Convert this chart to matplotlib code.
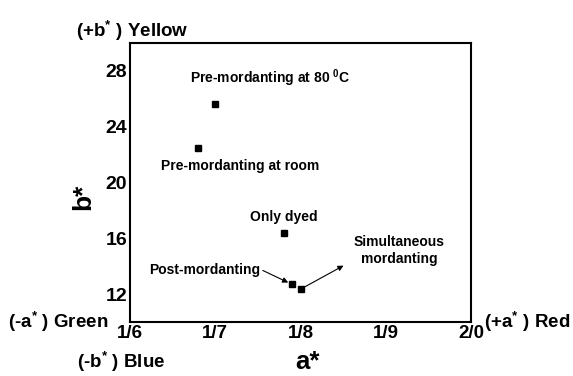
import matplotlib
matplotlib.use("Agg")
import matplotlib.pyplot as plt

plt.rcParams["font.family"] = ["Liberation Sans", "DejaVu Sans"]
plt.rcParams["font.weight"] = "bold"
plt.rcParams["mathtext.fontset"] = "custom"
plt.rcParams["mathtext.rm"] = "Liberation Sans:bold"
plt.rcParams["mathtext.it"] = "Liberation Sans:bold"
plt.rcParams["mathtext.bf"] = "Liberation Sans:bold"

# treatments and their CIELab coordinates
treatments = [
    "Pre-mordanting at 80 $^{0}$C",
    "Pre-mordanting at room",
    "Only dyed",
    "Post-mordanting",
    "Simultaneous\nmordanting",
]
a_star = [17.0, 16.8, 17.81, 17.9, 18.0]
b_star = [25.6, 22.5, 16.4, 12.7, 12.35]

x_ticks = [16, 17, 18, 19, 20]
x_ticklabels = ["1/6", "1/7", "1/8", "1/9", "2/0"]
y_ticks = [12, 16, 20, 24, 28]

fig = plt.figure(figsize=(5.73, 3.76), dpi=100)
ax = fig.add_axes([130 / 573, 1 - 322 / 376, 341 / 573, 279 / 376])

ax.plot(a_star, b_star, "s", color="black", markersize=4, linestyle="none")

ax.set_xlim(16, 20)
ax.set_ylim(10, 30)
ax.set_xticks(x_ticks)
ax.set_xticklabels(x_ticklabels)
ax.set_yticks(y_ticks)
ax.tick_params(length=0, pad=2)
ax.tick_params(axis="x", labelsize=13.5)
ax.tick_params(axis="y", labelsize=14)
for lbl in ax.get_xticklabels() + ax.get_yticklabels():
    lbl.set_fontweight("bold")
for sp in ax.spines.values():
    sp.set_linewidth(1.5)

fs = 10
arrow = dict(arrowstyle="-|>", color="black", lw=0.8, shrinkA=0, shrinkB=0,
             mutation_scale=8)

# point labels
ax.annotate(treatments[0], (a_star[0], b_star[0]), xytext=(-18, 11),
            textcoords="offset points", ha="left", va="bottom", fontsize=fs)
ax.annotate(treatments[1], (a_star[1], b_star[1]), xytext=(30, -8),
            textcoords="offset points", ha="center", va="top", fontsize=fs)
ax.annotate(treatments[2], (a_star[2], b_star[2]), xytext=(0, 6),
            textcoords="offset points", ha="center", va="bottom", fontsize=fs)
ax.annotate(treatments[3], (a_star[3], b_star[3]), xytext=(-23, 10),
            textcoords="offset points", ha="right", va="center", fontsize=fs)
ax.annotate("", xy=(a_star[3], b_star[3]), xytext=(-21, 10),
            xycoords="data", textcoords="offset points",
            arrowprops=dict(arrow, shrinkB=3))
ax.annotate(treatments[4], (a_star[4], b_star[4]), xytext=(71, 28),
            textcoords="offset points", ha="center", va="center", fontsize=fs,
            linespacing=1.3)
ax.annotate("", xy=(a_star[4], b_star[4]), xytext=(31, 17),
            xycoords="data", textcoords="offset points",
            arrowprops=dict(arrow, arrowstyle="<|-", shrinkB=4))

# colour-direction labels
ol = 13.5
fig.text(76 / 573, 1 - 31 / 376, "(+b$^{*}$ ) Yellow", fontsize=ol, va="center", ha="left")
fig.text(8 / 573, 1 - 322 / 376, "(-a$^{*}$ ) Green", fontsize=ol, va="center", ha="left")
fig.text(484 / 573, 1 - 322 / 376, "(+a$^{*}$ ) Red", fontsize=ol, va="center", ha="left")
fig.text(77 / 573, 1 - 362 / 376, "(-b$^{*}$ ) Blue", fontsize=ol, va="center", ha="left")

fig.text(83 / 573, 1 - 197 / 376, "b*", fontsize=19, rotation=90, va="center", ha="center")
fig.text(307 / 573, 1 - 362 / 376, "a*", fontsize=18.5, va="center", ha="center")

fig.savefig("out.png", dpi=100)
